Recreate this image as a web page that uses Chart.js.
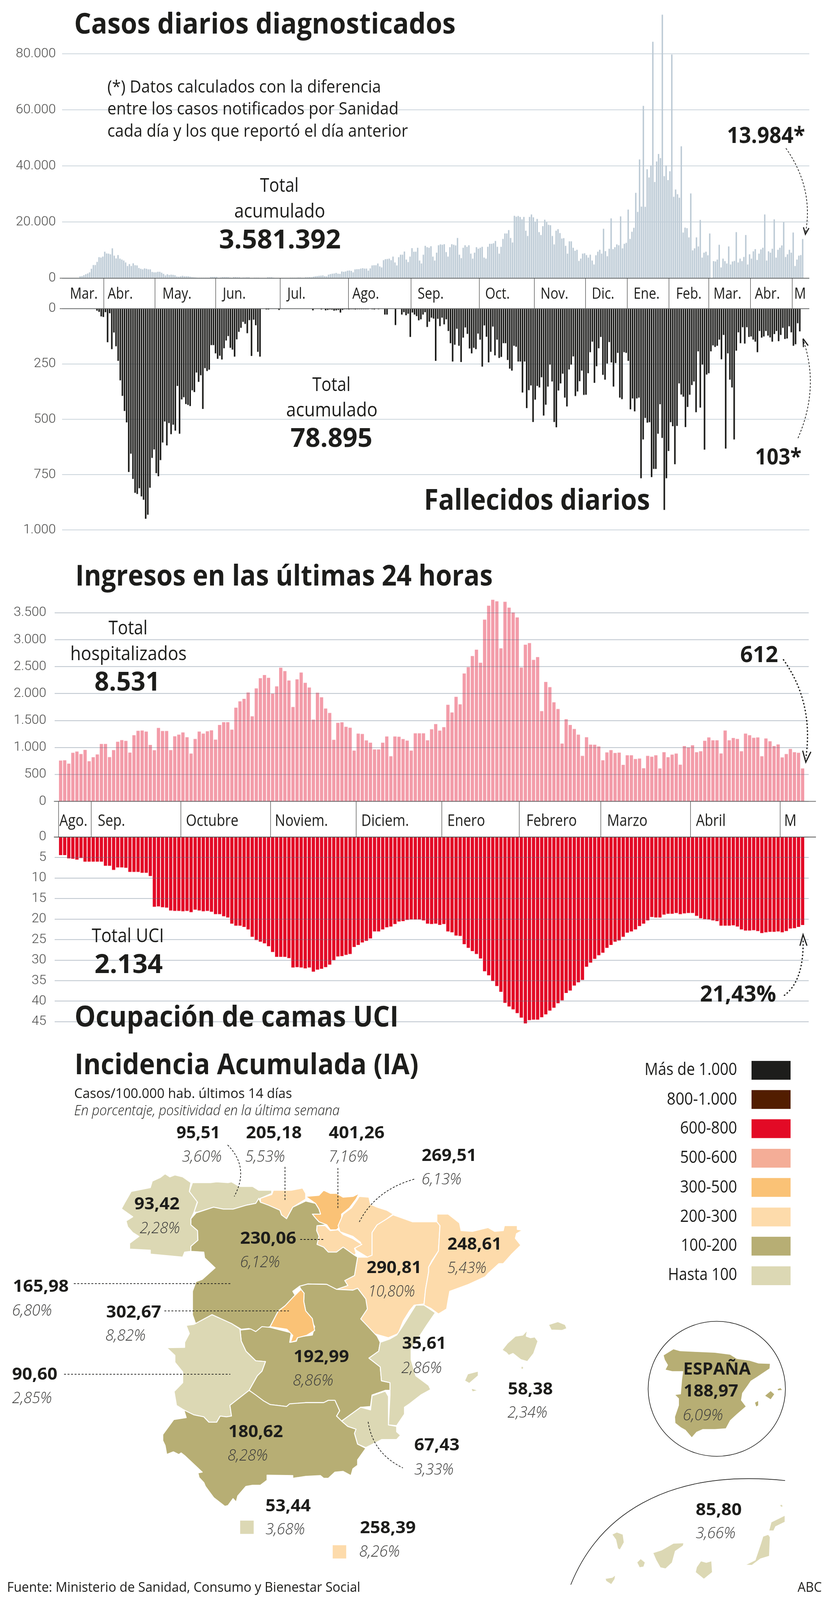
<!DOCTYPE html>
<html lang="es">
<head>
<meta charset="utf-8">
<title>Casos, fallecidos, ingresos, UCI e incidencia</title>
<script src="https://cdn.jsdelivr.net/npm/chart.js@4"></script>
<style>
html, body { margin: 0; background: #fff; overflow: hidden; }
#page { position: relative; width: 2126px; height: 4167px; overflow: hidden; transform-origin: 0 0; }
canvas { position: absolute; left: 0; }
svg { position: absolute; left: 0; top: 0; }
text { font-family: "Open Sans", sans-serif; fill: #1d1d1b; }
.title { font-size: 75px; font-weight: 700; }
.note { font-size: 45px; font-weight: 400; }
.total { font-size: 50px; font-weight: 400; }
.big { font-size: 68px; font-weight: 700; }
.last { font-size: 59px; font-weight: 700; }
.sub { font-size: 36px; font-weight: 400; }
.subi { font-size: 38px; font-weight: 300; font-style: italic; }
.leg { font-size: 44px; font-weight: 400; }
.val { font-size: 43px; font-weight: 700; }
.pct { font-size: 42px; font-weight: 300; font-style: italic; fill: #3c3c3b; }
.lead { fill: none; stroke: #1d1d1b; stroke-width: 1.8; stroke-dasharray: 5 4; }
.dots { fill: none; stroke: #1d1d1b; stroke-width: 3.2; stroke-dasharray: 4 5; }
.head { fill: none; stroke: #1d1d1b; stroke-width: 3; }
</style>
</head>
<body>
<div id="page">
  <canvas id="casesChart" width="2126" height="810" style="top:0"></canvas>
  <canvas id="deathsChart" width="2126" height="660" style="top:760px"></canvas>
  <canvas id="admissionsChart" width="2126" height="680" style="top:1500px"></canvas>
  <canvas id="icuChart" width="2126" height="590" style="top:2130px"></canvas>
  <svg id="overlay" width="2126" height="4167" viewBox="0 0 2126 4167" xmlns="http://www.w3.org/2000/svg"></svg>
</div>
<script>
// la ventana real puede ser más baja que la página: se ajusta la altura para que quepa todo
const PAGE_HEIGHT = 4167;
document.getElementById('page').style.transform = 'scaleY(' + Math.min(1, window.innerHeight / PAGE_HEIGHT) + ')';

// ========== Datos ==========
const casesTicks = [0, 20000, 40000, 60000, 80000];
const deathsTicks = [0, 250, 500, 750, 1000];
const admissionsTicks = [0, 500, 1000, 1500, 2000, 2500, 3000, 3500];
const icuTicks = [0, 5, 10, 15, 20, 25, 30, 35, 40, 45];

const casesMonths = ['Mar.', 'Abr.', 'May.', 'Jun.', 'Jul.', 'Ago.', 'Sep.', 'Oct.', 'Nov.', 'Dic.', 'Ene.', 'Feb.', 'Mar.', 'Abr.', 'M'];
const casesMonthStarts = [0, 22, 49, 81, 115, 151, 184, 220, 249, 276, 298, 320, 341, 363, 385];
const casesMonthPads = [20, 10, 19, 18, 18, 10, 17, 15, 16, 16, 16, 18, 12, 11, 5];

const wardMonths = ['Ago.', 'Sep.', 'Octubre', 'Noviem.', 'Diciem.', 'Enero', 'Febrero', 'Marzo', 'Abril', 'M'];
const wardMonthStarts = [1, 9, 31, 53, 74, 95, 114, 134, 156, 178];
const wardMonthPads = [2, 17, 13, 11, 13, 14, 18, 16, 14, 10];

const casesDaily = [
  0, 0, 0, 0, 0, 0, 0, 0, 0,
  700, 770, 1050, 1400, 1680, 2100, 3360, 4690, 4690, 5810, 7490, 7350, 7700, 9450,
  8820, 8750, 8540, 10640, 8050, 7070, 8260, 7000, 6650, 6300, 5600, 4340, 5040, 4340, 5320, 4620, 4550, 3640, 3360, 3150, 3500, 3360, 3150, 3150, 2240, 2100, 2100,
  2310, 2310, 1960, 1540, 980, 1400, 1120, 1260, 1190, 1050, 630, 560, 700, 840, 700, 700, 700, 560, 420, 350, 280, 210, 210, 210, 210, 210, 210, 210, 490, 490, 490,
  490, 210, 280, 420, 420, 420, 420, 280, 210, 420, 420, 350, 350, 210, 280, 280, 350, 350, 140, 140, 210, 210, 210, 140, 140, 140, 140, 350, 350, 350, 210, 140, 140, 140,
  140, 140, 140, 140, 140, 210, 210, 210, 210, 280, 280, 210, 210, 350, 350,
  420, 350, 560, 700, 770, 840, 910, 980, 770, 700,
  1260, 1470, 1610, 1680, 1890, 1610, 1540, 2380, 2310, 2380,
  2660, 2730, 2590, 2100, 3150, 3220, 3220, 3430, 3570, 3430,
  3430, 2660, 3500, 4550, 4620, 4620, 5250, 4200, 3850, 6440, 6790, 6860, 7000, 6440, 7700, 5600, 4550, 7490, 8400, 8400, 9520, 6650, 5740, 7700, 10710,
  9450, 9450, 10850, 6300, 5250, 8400, 11550, 11060, 10850,
  11410, 7700, 6300, 9100, 11760, 12040, 11900, 12110, 9310, 7700, 11060, 12110, 11900, 11690, 14350, 8400, 7140, 10850, 11760, 11200, 11760, 8750, 7000, 9100, 11060, 10500, 10850, 11200, 7350, 7000, 11200, 12250, 12250, 12460, 13300, 11200, 8750, 11200, 14000, 15960, 15960, 17150, 14350, 12740,
  22260, 21910, 22190, 21840, 21000, 21840, 16940, 15050, 21840, 22750,
  21700, 20160, 21140, 16450, 15400, 18550, 20860, 19950, 19040, 18900,
  15050, 12040, 16940, 17500, 16100, 14140, 14280, 11550, 8750, 13160,
  13160, 10850, 9800, 10150, 6160, 7000, 8750, 8890, 8260, 7350,
  8400, 6300, 4900, 8190, 9450, 10150, 8750, 17640, 9660, 7840,
  10500, 21350, 10360, 11060, 12040, 11760, 22050, 10640, 12250, 12600,
  24500, 14000, 16590, 17990, 30450, 23660, 42350, 25550, 61460, 25480,
  38850, 35910, 40250, 84350, 34300, 41650, 44310, 42840, 94010, 36400,
  40250, 35000, 38150, 79800, 29050, 31640, 29960, 28700, 47040, 16310,
  18060, 17850, 14560, 30240, 9940, 10640, 14560, 11340, 20790, 7350,
  9100, 9450, 8190, 15960, 0, 6090, 5950, 6650, 11900, 3850,
  7000, 6090, 5250, 11340, 4900, 5950, 6160, 16450, 5600, 7000,
  6090, 7560, 15400, 4900, 8540, 7000, 9590, 10360, 6510, 8750,
  10290, 10850, 22750, 6300, 9590, 9100, 10500, 21000, 7350, 10150,
  10850, 11690, 19950, 7560, 8540, 10150, 9100, 16310, 4340, 6650,
  8050, 8260, 13984
];

const deathsDaily = [
  0, 0, 0, 0, 0, 0, 0, 0, 0, 0, 0, 0, 0, 0, 0, 0,
  9, 15, 35, 38, 16, 152, 21, 183, 108, 170,
  236, 324, 394, 462, 514, 738, 655, 769, 832, 837,
  811, 848, 863, 949, 931, 809, 674, 636, 743, 757,
  684, 605, 510, 618, 517, 567, 524, 551, 349, 565,
  410, 400, 431, 435, 440, 369, 377, 289, 331, 301,
  453, 269, 282, 276, 165, 165, 202, 227, 213, 230,
  179, 144, 124, 177, 185, 217, 139, 105, 87, 60,
  69, 111, 52, 214, 50, 75, 195, 217,
  0, 0, 4, 4, 2, 0, 0, 0, 6, 0, 0, 0, 0, 0, 0, 0, 0, 0, 0, 0, 0, 0, 0, 0,
  8, 0, 0, 0, 4, 0, 8, 6, 4, 5, 9, 8, 6, 18, 6,
  3, 3, 4, 3, 3, 4, 3, 3, 3, 3, 3, 3, 2, 3, 4, 2, 3,
  2, 2, 27, 27, 0, 0, 2, 74, 2, 0, 27, 16, 30, 23, 128, 18,
  27, 34, 53, 48, 27, 16, 83, 59, 41, 45, 236, 46, 79, 41, 71, 48, 101, 156, 239, 163,
  91, 168, 241, 131, 85, 114, 180, 202, 177, 183, 113, 140, 262, 76, 127, 243, 195, 81, 211, 140,
  223, 218, 156, 156, 232, 271, 280, 168, 172, 239, 239, 379, 239, 449, 368, 347, 512, 411, 349, 356,
  310, 483, 434, 352, 253, 329, 512, 536, 370, 338, 294, 402, 442, 275, 253, 216, 395, 374, 328, 280,
  390, 389, 292, 197, 149, 335, 260, 179, 128, 299, 321, 248, 151, 243, 352, 246, 200, 402, 409, 197,
  200, 236, 455, 406, 464, 406, 402, 766, 591, 494, 515, 513, 761, 724, 724, 565, 432, 584, 909, 766,
  643, 513, 531, 703, 530, 338, 388, 398, 535, 444, 389, 345, 329, 468, 193, 447, 253, 637, 298, 292,
  193, 166, 173, 168, 140, 229, 119, 632, 202, 321, 356, 591, 190, 107, 156, 84, 158, 84, 128, 126,
  140, 149, 197, 101, 131, 126, 101, 122, 130, 149, 115, 101, 147, 119, 87, 137, 135, 80, 107, 168,
  161, 66, 103
];

const admissionsDaily = [
  null,
  757, 763, 701, 902, 924, 878, 955, 745, 819, 871,
  1066, 1066, 822, 952, 1106, 1137, 1122, 905, 1227, 1310,
  1316, 1295, 1048, 949, 1363, 1307, 1307, 952, 1208, 1239,
  1279, 1190, 887, 1159, 1295, 1258, 1301, 1319, 1146, 1418,
  1471, 1471, 1332, 1740, 1857, 1903, 2021, 1579, 2098, 2287,
  2345, 2293, 1999, 2135, 2481, 2419, 2243, 1752, 2265, 2392,
  2200, 2114, 1517, 2018, 1931, 1724, 1641, 1143, 1458, 1468,
  1384, 1366, 942, 1258, 1251, 1131, 1088, 964, 964, 1088,
  1205, 837, 1205, 1199, 1156, 1128, 942, 1264, 1264, 1264, 1134,
  1338, 1434, 1313, 1378, 1792, 1650, 1941, 1801, 2373, 2491,
  2698, 2815, 2574, 3374, 3631, 3742, 3714, 2840, 3705, 3597,
  3507, 3414, 2484, 2908, 2939, 2627, 2679, 1675, 2216, 2120,
  1839, 1715, 1072, 1526, 1418, 1344, 1239, 844, 1190, 1054,
  1051, 1020, 763, 908, 952, 899, 905, 677, 856, 856,
  785, 794, 615, 844, 828, 856, 612, 912, 819, 868,
  887, 680, 1026, 1001, 1041, 912, 930, 1125, 1187, 1134,
  1134, 890, 1316, 1134, 1177, 1159, 930, 1258, 1227, 1180,
  1187, 837, 1168, 1115, 1026, 1057, 816, 878, 973, 912,
  902, 612
];

const icuOccupancy = [
  null,
  4.4, 4.4, 5.2, 5.3, 5.5, 5.1, 6.0, 6.0, 6.0, 6.0,
  6.0, 7.0, 7.0, 8.0, 7.4, 7.4, 7.5, 8.5, 8.5, 8.5,
  8.7, 8.7, 9.5, 17.0, 16.9, 17.1, 17.2, 17.9, 18.0, 18.0,
  18.1, 18.0, 18.3, 17.7, 17.9, 18.1, 18.0, 18.2, 18.8, 18.8,
  19.3, 19.6, 21.1, 21.6, 21.6, 21.9, 22.5, 24.3, 25.1, 25.5,
  25.9, 26.6, 28.0, 29.2, 29.2, 29.2, 29.5, 31.8, 31.7, 31.8,
  32.0, 31.8, 32.8, 32.3, 32.1, 31.7, 31.1, 30.0, 29.1, 29.0,
  28.7, 28.5, 26.8, 26.3, 25.7, 25.3, 24.7, 23.0, 23.0, 22.5,
  22.0, 21.8, 21.2, 20.6, 20.5, 20.2, 20.1, 20.1, 20.1, 20.3, 21.1,
  21.2, 21.1, 21.4, 21.2, 23.0, 23.2, 24.0, 24.1, 26.1, 27.0,
  27.8, 28.5, 29.6, 32.7, 33.7, 35.1, 36.3, 37.7, 40.4, 41.3,
  42.0, 42.9, 44.0, 45.4, 44.6, 44.5, 44.5, 43.9, 43.2, 42.3,
  41.6, 40.5, 39.8, 38.0, 37.4, 36.2, 35.4, 34.8, 31.6, 30.6,
  29.7, 28.8, 28.2, 27.0, 26.3, 25.5, 25.2, 24.3, 23.3, 23.0,
  22.5, 21.7, 21.1, 20.3, 19.5, 19.6, 19.6, 18.9, 18.7, 18.7,
  18.5, 18.8, 18.6, 18.5, 18.5, 19.2, 19.8, 20.0, 20.1, 20.3,
  20.5, 21.6, 21.6, 21.6, 21.5, 21.8, 22.5, 22.8, 22.8, 22.7,
  22.9, 23.4, 23.2, 23.1, 23.1, 23.0, 23.2, 22.9, 22.3, 22.2,
  21.9, 21.43
];

const legendLabels = ['Más de 1.000', '800-1.000', '600-800', '500-600', '300-500', '200-300', '100-200', 'Hasta 100'];
const legendFloors = [1000, 800, 600, 500, 300, 200, 100, 0];
const legendColors = ['#1d1d1b', '#521d00', '#e30a26', '#f4ad97', '#fac276', '#fddbab', '#b7ae74', '#dcd8b4'];

const regionNames = ['Galicia', 'Asturias', 'Cantabria', 'País Vasco', 'Navarra', 'La Rioja', 'Aragón', 'Cataluña', 'Castilla y León', 'Castilla-La Mancha', 'Madrid', 'Extremadura', 'Andalucía', 'Murcia', 'C. Valenciana', 'Baleares', 'Canarias', 'Ceuta', 'Melilla'];
const regionIncidence = [93.42, 95.51, 205.18, 401.26, 269.51, 230.06, 290.81, 248.61, 165.98, 192.99, 302.67, 90.60, 180.62, 67.43, 35.61, 58.38, 85.80, 53.44, 258.39];
const regionPositivity = [2.28, 3.60, 5.53, 7.16, 6.13, 6.12, 10.80, 5.43, 6.80, 8.86, 8.82, 2.85, 8.28, 3.33, 2.86, 2.34, 3.66, 3.68, 8.26];
const spainIncidence = 188.97;
const spainPositivity = 6.09;

// ========== Geometría del mapa ==========
const regionShapes = {
  'Galicia': ['423,3057 435,3065 448,3060 468,3065 489,3080 485,3103 506,3128 497,3157 489,3174 489,3190 506,3205 507,3230 489,3246 489,3259 473,3261 468,3274 385,3266 385,3256 332,3253 332,3238 356,3220 340,3210 327,3195 323,3180 340,3169 311,3148 319,3133 336,3103 385,3093 390,3076 410,3067'],
  'Asturias': ['493,3080 539,3080 555,3078 584,3080 593,3078 613,3090 647,3090 663,3100 696,3100 696,3108 667,3121 655,3134 630,3139 597,3149 572,3149 547,3144 506,3157 497,3157 506,3131 485,3103'],
  'Cantabria': ['700,3100 746,3100 775,3094 783,3108 783,3123 750,3144 742,3159 734,3174 721,3164 717,3152 688,3139 667,3131 667,3121 696,3111'],
  'País Vasco': ['783,3116 817,3113 829,3100 846,3108 862,3108 879,3118 904,3116 920,3108 912,3123 895,3146 875,3162 875,3190 862,3203 846,3203 837,3190 817,3182 808,3172 800,3162 821,3162 817,3149 808,3134'],
  'Navarra': ['920,3116 945,3118 949,3136 966,3144 991,3152 1007,3162 987,3177 966,3190 953,3210 953,3251 953,3269 941,3274 912,3256 908,3248 924,3236 904,3220 871,3208 866,3192 879,3162 900,3146 916,3123'],
  'La Rioja': ['812,3192 833,3192 846,3205 866,3203 879,3215 904,3226 927,3241 908,3251 912,3264 908,3269 879,3248 862,3261 841,3261 829,3248 812,3241 817,3220 811,3205'],
  'Aragón': ['1007,3164 1057,3182 1119,3182 1127,3192 1123,3258 1107,3282 1098,3300 1098,3312 1090,3358 1086,3396 1061,3399 1049,3414 1033,3440 1020,3473 995,3484 957,3473 923,3435 933,3409 937,3383 916,3355 904,3360 862,3358 883,3335 908,3322 916,3274 941,3274 953,3269 953,3210 966,3190 987,3177'],
  'Cataluña': ['1119,3162 1148,3162 1177,3185 1181,3205 1210,3207 1250,3197 1267,3207 1289,3205 1292,3192 1325,3192 1325,3202 1338,3204 1323,3213 1320,3225 1334,3243 1311,3266 1289,3291 1278,3291 1250,3317 1243,3325 1200,3345 1152,3363 1148,3385 1144,3409 1123,3422 1103,3407 1086,3399 1090,3358 1098,3312 1098,3300 1123,3258 1127,3192 1119,3182'],
  'Castilla y León': ['663,3121 667,3131 688,3139 717,3152 721,3164 734,3174 742,3159 750,3144 783,3128 808,3134 817,3149 821,3162 800,3162 808,3172 817,3182 837,3190 812,3192 811,3205 817,3220 812,3241 829,3248 841,3261 862,3261 879,3248 908,3269 916,3274 908,3322 883,3335 891,3348 862,3358 837,3345 788,3344 767,3350 750,3363 759,3379 730,3401 713,3414 692,3455 655,3468 638,3460 618,3462 593,3447 543,3424 502,3450 493,3424 493,3363 502,3338 518,3332 551,3302 524,3276 522,3261 489,3259 489,3246 507,3230 506,3205 489,3190 489,3174 502,3159 547,3144 572,3149 597,3149 630,3139 655,3134'],
  'Castilla-La Mancha': ['767,3350 788,3344 837,3345 862,3358 904,3360 916,3355 937,3383 941,3409 924,3435 966,3480 974,3496 970,3519 945,3537 974,3560 977,3596 999,3601 999,3621 987,3621 953,3633 949,3663 924,3665 875,3701 862,3688 870,3674 858,3647 841,3647 829,3653 783,3653 734,3663 692,3658 676,3649 638,3621 659,3583 671,3571 680,3546 655,3544 630,3519 618,3493 615,3464 642,3461 655,3468 671,3455 692,3457 746,3471 742,3496 759,3493 763,3482 800,3477 806,3455 783,3414 778,3389 779,3368 771,3358'],
  'Madrid': ['771,3358 779,3368 778,3389 783,3414 800,3434 806,3465 785,3478 762,3484 758,3492 744,3496 750,3478 735,3462 692,3455 713,3414 730,3401 750,3379 759,3370'],
  'Extremadura': ['477,3452 497,3449 543,3424 593,3447 613,3460 615,3464 618,3493 630,3519 655,3544 680,3546 671,3571 659,3583 638,3621 589,3660 593,3688 580,3690 564,3688 555,3704 535,3704 522,3690 497,3685 471,3672 452,3660 446,3624 468,3601 468,3573 448,3548 448,3530 427,3510 473,3509 473,3496 485,3473'],
  'Andalucía': ['638,3621 655,3633 676,3649 692,3658 734,3663 742,3656 783,3653 829,3653 841,3647 858,3647 870,3674 862,3688 875,3701 891,3715 912,3722 908,3733 916,3761 937,3772 916,3802 916,3816 904,3825 899,3843 879,3832 858,3834 841,3850 829,3850 821,3843 783,3845 750,3850 750,3843 684,3842 684,3855 667,3868 647,3868 630,3871 609,3896 605,3912 597,3903 584,3921 576,3923 547,3900 539,3889 526,3871 522,3861 510,3848 507,3836 518,3834 473,3791 464,3784 458,3788 444,3781 427,3788 423,3765 417,3752 417,3736 445,3697 477,3692 471,3672 497,3685 522,3690 535,3704 555,3704 564,3688 580,3690 593,3688 589,3660'],
  'Murcia': ['875,3701 924,3665 949,3672 953,3635 987,3623 995,3637 995,3711 1016,3715 1016,3729 1026,3738 1016,3749 990,3749 978,3749 937,3770 916,3761 908,3733 912,3722 891,3715'],
  'C. Valenciana': ['1065,3399 1086,3399 1115,3419 1094,3450 1053,3514 1053,3541 1065,3583 1098,3608 1103,3619 1078,3633 1049,3656 1036,3665 1036,3683 1016,3713 995,3711 999,3633 999,3601 977,3596 974,3560 945,3537 970,3519 974,3496 999,3487 1016,3477 1028,3459'],
  'Baleares': [
    '1286,3516 1300,3498 1320,3480 1339,3477 1351,3464 1348,3480 1359,3484 1370,3482 1378,3493 1367,3525 1351,3546 1334,3541 1314,3525 1303,3530 1297,3523',
    '1337,3557 1342,3562 1337,3568 1334,3562',
    '1405,3450 1429,3442 1448,3450 1452,3460 1440,3465 1412,3464',
    '1190,3596 1198,3578 1225,3571 1225,3583 1202,3603',
    '1206,3615 1225,3621 1210,3625'
  ],
  'Canarias': [
    '1567,3996 1580,3990 1596,3996 1599,4017 1588,4037 1582,4033 1577,4010',
    '1631,4069 1641,4059 1653,4069 1649,4081 1638,4083',
    '1672,4044 1694,4037 1725,4019 1752,4018 1750,4026 1730,4040 1722,4070 1705,4086 1691,4083 1680,4063',
    '1550,4111 1568,4108 1577,4101 1575,4113 1566,4127 1552,4118',
    '1795,4065 1809,4069 1823,4065 1825,4095 1803,4113 1781,4095 1784,4081',
    '1908,4076 1934,4063 1948,4021 1954,4001 1968,3996 1973,4003 1971,4053 1948,4060 1926,4077',
    '1969,3987 1975,3964 1993,3955 2011,3946 2011,3964 1987,3976 1982,3987',
    '1997,3921 2001,3917 2007,3923 2001,3926'
  ],
  'Ceuta': ['614,3959 651,3959 651,3996 614,3996'],
  'Melilla': ['851,4023 888,4023 888,4060 851,4060']
};
const spainShapes = [
  '1700,3530 1725,3514 1742,3519 1786,3521 1831,3523 1870,3528 1887,3539 1920,3544 1943,3551 1972,3552 1971,3564 1937,3587 1923,3596 1915,3608 1901,3628 1898,3647 1910,3663 1887,3683 1870,3699 1859,3720 1831,3722 1800,3722 1784,3729 1772,3743 1756,3724 1744,3717 1730,3706 1729,3690 1739,3660 1739,3642 1730,3633 1744,3631 1747,3594 1750,3571 1722,3571 1705,3567 1711,3555 1703,3541',
  '1960,3635 1974,3623 1983,3631 1974,3644',
  '1992,3618 1999,3615 2003,3620 1993,3621',
  '1934,3653 1942,3649 1942,3660 1937,3663'
];
// valor: x, base, ancho; positividad: x, base, ancho
const regionLabelBoxes = [
  [344, 3150, 116, 358, 3212, 103], [452, 2965, 112, 466, 3026, 102], [630, 2965, 143, 628, 3026, 102],
  [842, 2965, 143, 842, 3026, 101], [1080, 3024, 141, 1080, 3085, 102], [615, 3239, 144, 615, 3300, 102],
  [939, 3316, 141, 943, 3377, 120], [1146, 3254, 139, 1146, 3315, 100], [33, 3364, 143, 31, 3426, 102],
  [752, 3547, 142, 750, 3609, 104], [272, 3431, 141, 270, 3491, 103], [31, 3593, 116, 31, 3654, 102],
  [585, 3743, 140, 583, 3804, 103], [1061, 3777, 116, 1061, 3840, 101], [1030, 3513, 113, 1028, 3576, 104],
  [1301, 3632, 115, 1300, 3692, 102], [1782, 3946, 118, 1782, 4006, 102], [680, 3936, 116, 680, 3996, 101],
  [922, 3993, 143, 920, 4054, 104]
];

// ========== Textos sueltos: texto, x, base, ancho, clase ==========
const pageTexts = [
  ['Casos diarios diagnosticados', 190, 88, 977, 'title'],
  ['(*) Datos calculados con la diferencia', 275, 241, 701, 'note'],
  ['entre los casos notificados por Sanidad', 275, 298, 746, 'note'],
  ['cada día y los que reportó el día anterior', 275, 356, 770, 'note'],
  ['Total', 666, 500, 99, 'total'],
  ['acumulado', 600, 567, 233, 'total'],
  ['3.581.392', 561, 647, 312, 'big'],
  ['13.984*', 1862, 372, 200, 'last'],
  ['Total', 800, 1018, 98, 'total'],
  ['acumulado', 733, 1084, 234, 'total'],
  ['78.895', 744, 1164, 210, 'big'],
  ['103*', 1934, 1210, 119, 'last'],
  ['Fallecidos diarios', 1086, 1328, 579, 'title'],
  ['Ingresos en las últimas 24 horas', 193, 1525, 1069, 'title'],
  ['Total', 278, 1652, 100, 'total'],
  ['hospitalizados', 180, 1719, 298, 'total'],
  ['8.531', 242, 1799, 168, 'big'],
  ['612', 1896, 1724, 97, 'last'],
  ['Total UCI', 235, 2454, 185, 'total'],
  ['2.134', 242, 2534, 175, 'big'],
  ['21,43%', 1793, 2608, 195, 'last'],
  ['Ocupación de camas UCI', 191, 2674, 830, 'title'],
  ['Incidencia Acumulada (IA)', 191, 2798, 881, 'title'],
  ['Casos/100.000 hab. últimos 14 días', 190, 2860, 558, 'sub'],
  ['En porcentaje, positividad en la última semana', 190, 2904, 680, 'subi'],
  ['Fuente: Ministerio de Sanidad, Consumo y Bienestar Social', 18, 4146, 905, 'sub'],
  ['ABC', 2043, 4146, 62, 'sub']
];

// ========== Gráficos ==========
const gridColor = '#c9d3da';
const gridOverBars = 'rgba(90,110,130,0.42)';

function thousands(v) {
  return String(v).replace(/\B(?=(\d{3})+$)/g, '.');
}

// eje de meses y línea base, con la misma escala x de las barras
const monthAxis = {
  id: 'monthAxis',
  afterDraw(chart, args, o) {
    const ctx = chart.ctx;
    const x = chart.scales.x;
    const y0 = chart.scales.y.getPixelForValue(0);
    ctx.save();
    ctx.strokeStyle = '#3c3c3b';
    ctx.lineWidth = 1.6;
    ctx.beginPath();
    ctx.moveTo(o.axisFrom, y0);
    ctx.lineTo(o.axisTo, y0);
    ctx.stroke();
    if (o.names) {
      ctx.font = '400 ' + o.fontSize + 'px "Open Sans"';
      ctx.fillStyle = '#1d1d1b';
      o.names.forEach((name, i) => {
        const px = x.getPixelForValue(o.starts[i] - 0.5);
        if (i > 0 || o.firstLine) {
          ctx.lineWidth = 1.2;
          ctx.beginPath();
          ctx.moveTo(px, y0);
          ctx.lineTo(px, y0 + o.drop);
          ctx.stroke();
        }
        ctx.save();
        ctx.translate(px + o.pads[i], y0 + o.baseline);
        ctx.scale(o.stretch, 1);
        ctx.fillText(name, 0, 0);
        ctx.restore();
      });
    }
    ctx.restore();
  }
};

function makeBars(id, cfg) {
  const labels = Array.from({ length: cfg.slots }, (_, i) => i);
  return new Chart(document.getElementById(id), {
    type: 'bar',
    data: {
      labels: labels,
      datasets: [{ data: cfg.values, backgroundColor: cfg.color, categoryPercentage: 1, barPercentage: cfg.barShare }]
    },
    plugins: [monthAxis],
    options: {
      responsive: false,
      animation: false,
      devicePixelRatio: 1,
      layout: { padding: cfg.padding },
      plugins: { legend: { display: false }, tooltip: { enabled: false }, monthAxis: cfg.axis },
      scales: {
        x: { display: false },
        y: {
          reverse: !!cfg.reverse,
          min: 0,
          max: cfg.max,
          afterFit: s => { s.width = cfg.axisWidth; },
          afterBuildTicks: s => { s.ticks = cfg.ticks.map(v => ({ value: v })); },
          border: { display: false },
          grid: { color: cfg.grid, lineWidth: 2, drawTicks: false, z: cfg.gridZ },
          ticks: {
            autoSkip: false,
            padding: cfg.tickPad,
            color: '#4a4a49',
            font: { family: 'Roboto', size: 34, weight: '300' },
            callback: v => thousands(v)
          }
        }
      }
    }
  });
}

makeBars('casesChart', {
  values: casesDaily, slots: 394, color: '#bccad5', barShare: 0.74, ticks: casesTicks, max: 94100,
  axisWidth: 159, tickPad: 16, grid: gridColor, gridZ: -1,
  padding: { top: 37.5, bottom: 85.5, left: 0, right: 53 },
  axis: { axisFrom: 153, axisTo: 2073, names: casesMonths, starts: casesMonthStarts, pads: casesMonthPads, drop: 79, baseline: 53.5, fontSize: 40, stretch: 0.84 }
});
makeBars('deathsChart', {
  values: deathsDaily, slots: 353, color: '#1d1d1b', barShare: 0.74, ticks: deathsTicks, max: 1000, reverse: true,
  axisWidth: 159, tickPad: 16, grid: gridColor, gridZ: -1,
  padding: { top: 43.7, bottom: 39.6, left: 0, right: 53 },
  axis: { axisFrom: 153, axisTo: 2073 }
});
makeBars('admissionsChart', {
  values: admissionsDaily, slots: 185, color: '#f39ca9', barShare: 0.8, ticks: admissionsTicks, max: 3800,
  axisWidth: 139.6, tickPad: 21, grid: gridOverBars, gridZ: 1,
  padding: { top: 53.9, bottom: 93, left: 0, right: 54.5 },
  axis: { axisFrom: 138, axisTo: 2090, names: wardMonths, starts: wardMonthStarts, pads: wardMonthPads, drop: 93, baseline: 64.4, fontSize: 42, stretch: 0.84, firstLine: true }
});
makeBars('icuChart', {
  values: icuOccupancy, slots: 185, color: '#e30a26', barShare: 0.8, ticks: icuTicks, max: 46, reverse: true,
  axisWidth: 139.6, tickPad: 21, grid: gridOverBars, gridZ: 1,
  padding: { top: 49.9, bottom: 48.4, left: 0, right: 54.5 },
  axis: { axisFrom: 138, axisTo: 2090 }
});

// ========== Capa SVG: textos, flechas, leyenda y mapa ==========
const svg = document.getElementById('overlay');
const NS = 'http://www.w3.org/2000/svg';

function add(tag, attrs, content) {
  const el = document.createElementNS(NS, tag);
  Object.keys(attrs).forEach(k => el.setAttribute(k, attrs[k]));
  if (content !== undefined) el.textContent = content;
  svg.appendChild(el);
  return el;
}

function addText(str, x, y, width, cls) {
  add('text', { x: x, y: y, textLength: width, lengthAdjust: 'spacingAndGlyphs', class: cls }, str);
}

function binColor(value) {
  const i = legendFloors.findIndex(f => value >= f);
  return legendColors[i];
}

function decimal(v) {
  return v.toFixed(2).replace('.', ',');
}

// mapa
regionNames.forEach((name, i) => {
  regionShapes[name].forEach(points => {
    add('polygon', { points: points, fill: binColor(regionIncidence[i]), stroke: '#fff', 'stroke-width': 2.4, 'stroke-linejoin': 'round' });
  });
});
add('circle', { cx: 1836, cy: 3617, r: 175.8, fill: 'none', stroke: '#1d1d1b', 'stroke-width': 1.6 });
spainShapes.forEach(points => add('polygon', { points: points, fill: binColor(spainIncidence) }));
add('path', { d: 'M1462,4127 C1540,3930 1720,3850 1920,3851 C1955,3851 1985,3853 2011,3856', fill: 'none', stroke: '#1d1d1b', 'stroke-width': 1.6 });

// líneas guía del mapa
['M583,2982 Q640,3040 600,3116', 'M730,3039 L730,3126', 'M865.5,3042 L865.5,3148', 'M1061,3071 Q960,3100 918.5,3186',
 'M769,3228 L831,3228', 'M189,3343 L590,3343', 'M421,3414 L740,3414', 'M164,3579 L590,3579', 'M943,3703 Q955,3785 1032,3823'
].forEach(d => add('path', { d: d, class: 'lead' }));

// flechas de los últimos valores
add('path', { d: 'M2013,386 Q2085,490 2063,608', class: 'lead' });
add('path', { d: 'M2058,592 L2063,610 L2072,594', class: 'head', 'stroke-width': 2 });
add('path', { d: 'M2044,1141 Q2100,1010 2057,884', class: 'lead' });
add('path', { d: 'M2057,882 L2070,900 M2057,882 L2058,904', class: 'head', 'stroke-width': 2 });
add('path', { d: 'M2006,1717 Q2085,1830 2064,1975', class: 'dots' });
add('path', { d: 'M2056,1955 L2064,1985 L2077,1958', class: 'head' });
add('path', { d: 'M2008,2593 Q2060,2555 2057,2445', class: 'dots' });
add('path', { d: 'M2049,2463 L2057,2434 L2067,2463', class: 'head' });

// leyenda
const legendTops = [2763, 2839, 2915, 2992, 3068, 3145, 3221, 3298];
const legendBases = [2800, 2877, 2952, 3029, 3106, 3182, 3258, 3334];
const legendWidths = [237, 180, 146, 146, 146, 146, 144, 177];
legendLabels.forEach((label, i) => {
  addText(label, 1888 - legendWidths[i], legendBases[i], legendWidths[i], 'leg');
  add('rect', { x: 1925, y: legendTops[i], width: 100, height: 49, fill: legendColors[i] });
});

// etiquetas de incidencia y positividad
regionNames.forEach((name, i) => {
  const b = regionLabelBoxes[i];
  addText(decimal(regionIncidence[i]), b[0], b[1], b[2], 'val');
  addText(decimal(regionPositivity[i]) + '%', b[3], b[4], b[5], 'pct');
});
addText('ESPAÑA', 1750, 3580, 173, 'val');
addText(decimal(spainIncidence), 1751, 3637, 140, 'val');
addText(decimal(spainPositivity) + '%', 1749, 3699, 103, 'pct');

pageTexts.forEach(t => addText(t[0], t[1], t[2], t[3], t[4]));
</script>
</body>
</html>
